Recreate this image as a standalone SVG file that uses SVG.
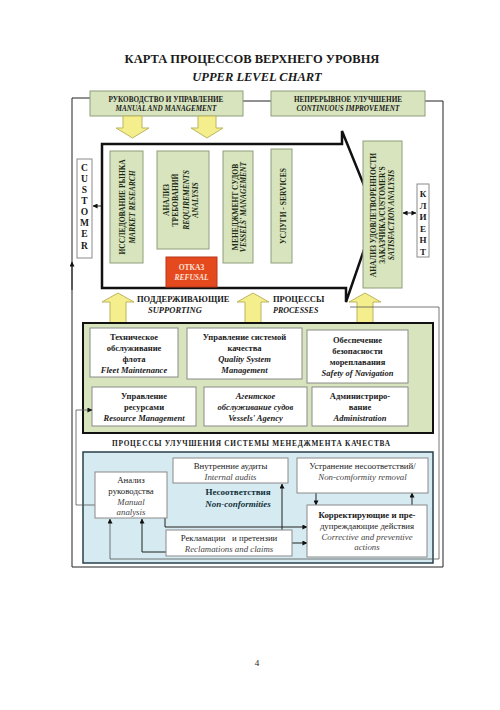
<svg xmlns="http://www.w3.org/2000/svg" width="500" height="710" viewBox="0 0 500 710">
<defs>
<marker id="arr" viewBox="0 0 6 6" refX="5.5" refY="3" markerWidth="5" markerHeight="5" orient="auto-start-reverse" markerUnits="userSpaceOnUse">
<path d="M0,0 L6,3 L0,6 Z" fill="#111"/>
</marker>
<style>
text{font-family:"Liberation Serif","DejaVu Serif",serif;fill:#1a1a1a}
.b{font-weight:bold}
.i{font-style:italic}
.c{text-anchor:middle}
.gbox{fill:#d7e4bd;stroke:#8e9e7a;stroke-width:1}
.wbox{fill:#fff;stroke:#8a8a8a;stroke-width:1}
.yarr{fill:#f4ee8c;stroke:#bdb460;stroke-width:1}
.ln{fill:none;stroke:#222;stroke-width:1}
.lnt{fill:none;stroke:#555;stroke-width:0.8}
.vt{font-size:7.5px;font-weight:bold;text-anchor:middle;fill:#1c2a14}
.st{font-size:8.5px;font-weight:bold;text-anchor:middle}
.bt{font-size:8.8px;text-anchor:middle}
</style>
</defs>
<rect width="500" height="710" fill="#fff"/>

<text class="b c" x="252" y="63" font-size="12.5">КАРТА ПРОЦЕССОВ ВЕРХНЕГО УРОВНЯ</text>
<text class="b i c" x="257" y="81" font-size="12.5">UPPER LEVEL CHART</text>

<g id="connectors">
<path class="ln" d="M90,98 H72 V567 H443 V101 H425"/>
<path class="ln" d="M72,290 V262" marker-end="url(#arr)"/>
<path class="ln" d="M243,101 H271"/>
<path class="ln" d="M93,206 H109" marker-start="url(#arr)" marker-end="url(#arr)"/>
<path class="ln" d="M143,198 H157" marker-end="url(#arr)"/>
<path class="ln" d="M143,213 H157" marker-end="url(#arr)"/>
<path class="ln" d="M143,228 H157" marker-end="url(#arr)"/>
<path class="ln" d="M209,213 H223" marker-end="url(#arr)"/>
<path class="ln" d="M199,249 V257" marker-end="url(#arr)"/>
<path class="ln" d="M253,213 H271" marker-end="url(#arr)"/>
<path class="ln" d="M284,192 H356" marker-end="url(#arr)"/>
<path class="ln" d="M292,213 H356" marker-end="url(#arr)"/>
<path class="ln" d="M292,233 H356" marker-end="url(#arr)"/>
<path class="ln" d="M403,213 H416" marker-start="url(#arr)" marker-end="url(#arr)"/>
</g>

<g id="process-arrow">
<polygon points="102,144 342,144 342,131 376,215 346,302 346,288 102,288" fill="#fff" stroke="#111" stroke-width="2.5" stroke-linejoin="miter"/>
</g>

<g id="manual-management">
<rect class="gbox" x="90" y="91" width="153" height="25"/>
<text class="b c" x="166" y="101.5" font-size="7.2">РУКОВОДСТВО И УПРАВЛЕНИЕ</text>
<text class="b i c" x="166" y="110.5" font-size="7.2">MANUAL AND MANAGEMENT</text>
</g>
<g id="continuous-improvement">
<rect class="gbox" x="271" y="91" width="154" height="25"/>
<text class="b c" x="348" y="101.5" font-size="7.2">НЕПРЕРЫВНОЕ УЛУЧШЕНИЕ</text>
<text class="b i c" x="348" y="110.5" font-size="7.2">CONTINUOUS IMPROVEMENT</text>
</g>

<g id="down-arrows">
<polygon class="yarr" points="123,116 142,116 142,128 149,128 132.5,138 116,128 123,128"/>
<polygon class="yarr" points="198,116 216,116 216,128 223,128 207,138 191,128 198,128"/>
</g>

<g id="customer">
<rect class="wbox" x="77" y="159" width="15" height="99"/>
<g class="b c" font-size="9.5">
<text x="84.5" y="171">C</text><text x="84.5" y="182">U</text><text x="84.5" y="193">S</text><text x="84.5" y="204">T</text>
<text x="84.5" y="215">O</text><text x="84.5" y="226">M</text><text x="84.5" y="237">E</text><text x="84.5" y="249">R</text>
</g>
</g>

<g id="market-research">
<rect class="gbox" x="110" y="151" width="33" height="112"/>
<text class="vt" transform="translate(125,207) rotate(-90)">ИССЛЕДОВАНИЕ РЫНКА</text>
<text class="vt i" transform="translate(135,207) rotate(-90)">MARKET RESEARCH</text>
</g>

<g id="requirements-analysis">
<rect class="gbox" x="157" y="151" width="52" height="98"/>
<text class="vt" transform="translate(169,200) rotate(-90)">АНАЛИЗ</text>
<text class="vt" transform="translate(178,200) rotate(-90)">ТРЕБОВАНИЙ</text>
<text class="vt i" transform="translate(189,200) rotate(-90)">REQUIREMENTS</text>
<text class="vt i" transform="translate(198,200) rotate(-90)">ANALYSIS</text>
</g>

<g id="refusal">
<rect x="166" y="257" width="51" height="30" fill="#e5491e" stroke="#b8391a" stroke-width="1"/>
<text class="b c" x="191.5" y="270" font-size="7.5" style="fill:#fde3d8">ОТКАЗ</text>
<text class="b i c" x="191.5" y="280" font-size="7.5" style="fill:#fde3d8">REFUSAL</text>
</g>

<g id="vessels-management">
<rect class="gbox" x="223" y="151" width="30" height="112"/>
<text class="vt" transform="translate(238,207) rotate(-90)">МЕНЕДЖМЕНТ СУДОВ</text>
<text class="vt i" transform="translate(246,207) rotate(-90)">VESSELS' MANAGEMENT</text>
</g>

<g id="services">
<rect class="gbox" x="271" y="149" width="21" height="114"/>
<text class="vt" transform="translate(286,206) rotate(-90)">УСЛУГИ - SERVICES</text>
</g>

<g id="satisfaction-analysis">
<rect class="gbox" x="363" y="141" width="39" height="147"/>
<text class="vt" transform="translate(376,215) rotate(-90)">АНАЛИЗ УДОВЛЕТВОРЕННОСТИ</text>
<text class="vt" transform="translate(385,215) rotate(-90)">ЗАКАЗЧИКА/CUSTOMER'S</text>
<text class="vt i" transform="translate(394,215) rotate(-90)">SATISFACTION ANALYSIS</text>
</g>

<g id="client">
<rect class="wbox" x="417" y="184" width="12" height="73"/>
<g class="b c" font-size="9">
<text x="423" y="197">К</text><text x="423" y="208.5">Л</text><text x="423" y="220">И</text>
<text x="423" y="231.5">Е</text><text x="423" y="243">Н</text><text x="423" y="254.5">Т</text>
</g>
</g>

<g id="supporting-label">
<polygon class="yarr" points="110,323 126,323 126,302 134,302 118,293 102,302 110,302"/>
<polygon class="yarr" points="245,323 261,323 261,302 269,302 253,293 237,302 245,302"/>
<polygon class="yarr" points="357,323 373,323 373,302 381,302 365,293 349,302 357,302"/>
<text class="b" x="137" y="302" font-size="8.5">ПОДДЕРЖИВАЮЩИЕ</text>
<text class="b i" x="148" y="313" font-size="8.5">SUPPORTING</text>
<text class="b" x="273" y="302" font-size="8.5">ПРОЦЕССЫ</text>
<text class="b i" x="273" y="313" font-size="8">PROCESSES</text>
</g>

<g id="supporting-processes">
<rect x="83" y="323" width="350" height="110" fill="#d7e4bd" stroke="#111" stroke-width="2"/>
</g>

<g id="fleet-maintenance">
<rect class="wbox" x="90" y="328" width="88" height="49"/>
<text class="st" x="134" y="340">Техническое</text>
<text class="st" x="134" y="351">обслуживание</text>
<text class="st" x="134" y="362">флота</text>
<text class="st i" x="134" y="373">Fleet Maintenance</text>
</g>
<g id="quality-system">
<rect class="wbox" x="187" y="328" width="115" height="51"/>
<text class="st" x="244.5" y="340">Управление системой</text>
<text class="st" x="244.5" y="351" font-weight="normal">качества</text>
<text class="st i" x="244.5" y="362">Quality System</text>
<text class="st i" x="244.5" y="373">Management</text>
</g>
<g id="safety-navigation">
<rect class="wbox" x="307" y="330" width="101" height="53"/>
<text class="st" x="357.5" y="343">Обеспечение</text>
<text class="st" x="357.5" y="354">безопасности</text>
<text class="st" x="357.5" y="365">мореплавания</text>
<text class="st i" x="357.5" y="376">Safety of Navigation</text>
</g>
<g id="resource-management">
<rect class="wbox" x="92" y="387" width="104" height="39"/>
<text class="st" x="144" y="399">Управление</text>
<text class="st" x="144" y="410">ресурсами</text>
<text class="st i" x="144" y="421">Resource Management</text>
</g>
<g id="vessels-agency">
<rect class="wbox" x="204" y="387" width="103" height="39"/>
<text class="st i" x="255.5" y="399" font-weight="normal">Агентское</text>
<text class="st i" x="255.5" y="410" font-weight="normal">обслуживание судов</text>
<text class="st i" x="255.5" y="421">Vessels' Agency</text>
</g>
<g id="administration">
<rect class="wbox" x="312" y="387" width="96" height="39"/>
<text class="st" x="360" y="399">Администриро-</text>
<text class="st" x="360" y="410">вание</text>
<text class="st i" x="360" y="421">Administration</text>
</g>

<text class="b c" x="251" y="446" font-size="7.3" textLength="278">ПРОЦЕССЫ УЛУЧШЕНИЯ СИСТЕМЫ МЕНЕДЖМЕНТА КАЧЕСТВА</text>

<g id="improvement-processes">
<rect x="83" y="452" width="350" height="111" fill="#d6ebf1" stroke="#26404a" stroke-width="1.5"/>
</g>

<g id="connectors-improvement">
<path class="lnt" d="M95,505 H76 V410 H92" marker-end="url(#arr)"/>
<path class="lnt" d="M350,307 H439 V559 H110 V519" marker-end="url(#arr)"/>
<path class="ln" d="M165,518 V527 H307" marker-end="url(#arr)"/>
<path class="ln" d="M292,543 H307" marker-end="url(#arr)"/>
<path class="ln" d="M166,552 H142 V519" marker-end="url(#arr)"/>
<path class="ln" d="M282,530 V484" marker-end="url(#arr)"/>
<path class="ln" d="M316,493 V505" marker-end="url(#arr)"/>
<path class="ln" d="M412,505 V493" marker-end="url(#arr)"/>
</g>

<g id="manual-analysis">
<rect class="wbox" x="95" y="472" width="72" height="46"/>
<text class="bt" x="131" y="483">Анализ</text>
<text class="bt" x="131" y="494">руководства</text>
<text class="bt i" x="131" y="505" style="fill:#444">Manual</text>
<text class="bt i" x="131" y="515" style="fill:#444">analysis</text>
</g>
<g id="internal-audits">
<rect class="wbox" x="173" y="458" width="115" height="25"/>
<text class="bt" x="230.5" y="469">Внутренние аудиты</text>
<text class="bt i" x="230.5" y="479.5" style="fill:#444">Internal audits</text>
</g>
<g id="nonconformity-removal">
<rect class="wbox" x="297" y="458" width="131" height="35"/>
<text class="bt" x="362.5" y="469">Устранение несоответствий/</text>
<text class="bt i" x="362.5" y="479.5" style="fill:#444">Non-comformity removal</text>
</g>
<g id="nonconformities">
<text class="b c" x="238" y="495" font-size="9" style="fill:#12303a">Несоответствия</text>
<text class="b i c" x="238" y="507" font-size="9" style="fill:#12303a">Non-conformities</text>
</g>
<g id="corrective-actions">
<rect class="wbox" x="307" y="505" width="120" height="52"/>
<text class="bt b" x="367" y="518">Корректирующие и пре-</text>
<text class="bt" x="367" y="528.5">дупреждающие действия</text>
<text class="bt i" x="367" y="539.5" style="fill:#444">Corrective and preventive</text>
<text class="bt i" x="367" y="550" style="fill:#444">actions</text>
</g>
<g id="reclamations">
<rect class="wbox" x="166" y="530" width="126" height="26"/>
<text class="bt" x="229" y="541" xml:space="preserve">Рекламации   и претензии</text>
<text class="bt i" x="229" y="551.5" style="fill:#444">Reclamations and claims</text>
</g>

<text class="c" x="257" y="666" font-size="9">4</text>
</svg>
